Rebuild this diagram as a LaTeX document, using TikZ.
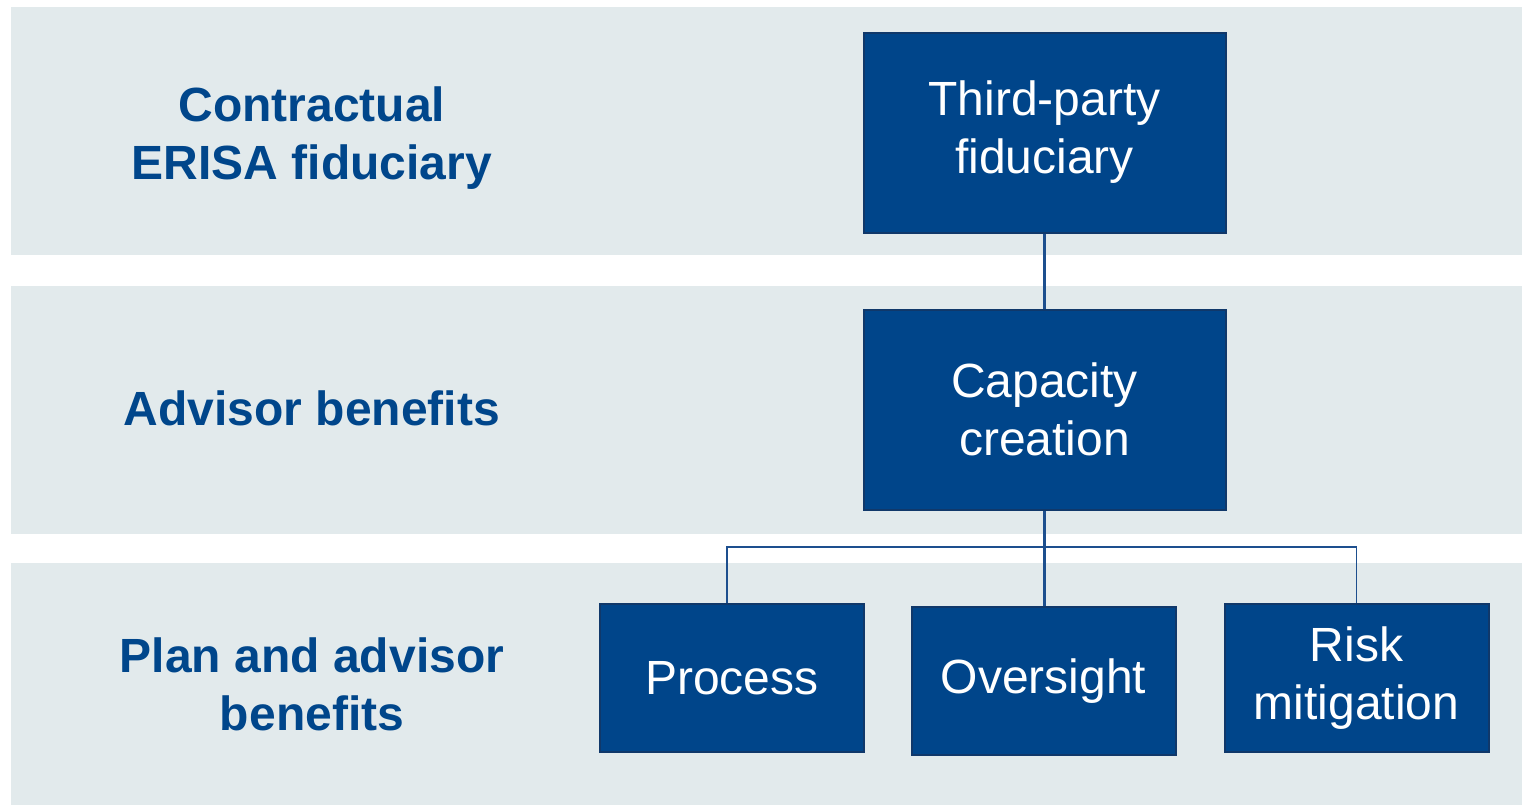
\documentclass[tikz,border=0pt]{standalone}
\usepackage{fontspec}
\setmainfont{Liberation Sans}
\usepackage{tikz}
\usetikzlibrary{positioning}

\definecolor{bandgray}{HTML}{E2EAEC}
\definecolor{boxblue}{HTML}{00458A}
\definecolor{boxedge}{HTML}{10386A}
\definecolor{labelblue}{HTML}{00468B}
\definecolor{linkblue}{HTML}{1D4F8E}

\begin{document}
\begin{tikzpicture} [x=0.5pt, y=-0.5pt,
  band/.style = {fill=bandgray, draw=none},
  tier/.style = {text=labelblue, font=\bfseries\fontsize{24}{29}\selectfont, align=center},
  bigbox/.style = {draw=boxedge, line width=1pt, fill=boxblue, text=white, align=center,
    font=\fontsize{24}{29}\selectfont, minimum width=181pt, minimum height=100pt, inner sep=0pt},
  smallbox/.style = {bigbox, minimum width=132pt, minimum height=74pt},
  link/.style = {draw=linkblue, line width=1.1pt}]
\useasboundingbox (0,0) rectangle (1522,805);
% background bands
\fill[band] (11,7) rectangle (1522,255);
\fill[band] (11,286) rectangle (1522,534);
\fill[band] (11,563) rectangle (1522,805);
% tier labels
\node[tier] (t1) at (312,138) {Contractual\\ERISA fiduciary};
\node[tier] (t2) at (312,408) {Advisor benefits};
\node[tier] (t3) at (312,684) {Plan and advisor\\benefits};
% boxes
\node[bigbox] (third) at (1044.5,132.5) {Third-party\\fiduciary};
\node[bigbox] (capacity) at (1044.5,409.5) {Capacity\\creation};
\node[smallbox] (process) at (732,678) {Process};
\node[smallbox] (oversight) at (1043.5,681) {Oversight};
\node[smallbox] (risk) at (1356.5,678) {Risk\\mitigation};
\coordinate (bar) at (1044.5,547);
% links
\draw[link] (third) -- (capacity);
\draw[link] (capacity.south) -- (oversight.north -| capacity.south);
\draw[link, line width=0.7pt] (process.north -| 727,0) |- (bar) -| (risk.north);
\end{tikzpicture}
\end{document}
